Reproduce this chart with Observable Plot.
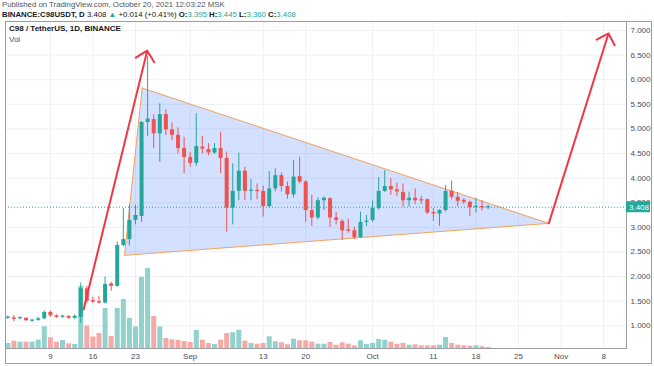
<!DOCTYPE html>
<html><head><meta charset="utf-8">
<script src="https://cdn.jsdelivr.net/npm/d3@7"></script>
<script src="https://cdn.jsdelivr.net/npm/@observablehq/plot@0.6"></script>
<style>
body{margin:0;background:#fff;}
#wrap{position:relative;width:654px;height:366px;overflow:hidden;font-family:"Liberation Sans",Arial,sans-serif;}
.hdr{position:absolute;left:2px;font-size:7.8px;line-height:10px;white-space:nowrap;color:#50535e;}
#h1{top:0px;}
#h2{top:10px;color:#131722;}
#h2 b{font-weight:bold;}
#h2 .g{color:#26a69a;}
#frame{position:absolute;left:5px;top:21px;width:647px;height:343px;border:1px solid #9a9da5;box-sizing:border-box;}
#plot{position:absolute;left:0;top:20px;}
#t1{position:absolute;left:9px;top:24px;font-size:8px;font-weight:bold;color:#131722;white-space:nowrap;}
#t2{position:absolute;left:9px;top:35px;font-size:8px;color:#50535e;}
</style></head>
<body>
<div id="wrap">
  <div id="frame"></div>
  <div class="hdr" id="h1">Published on TradingView.com, October 20, 2021 12:03:22 MSK</div>
  <div class="hdr" id="h2"><b>BINANCE:C98USDT, D</b> 3.408 <span class="g">▲</span> +0.014 (+0.41%) <b>O:</b><span class="g">3.395</span> <b>H:</b><span class="g">3.445</span> <b>L:</b><span class="g">3.360</span> <b>C:</b><span class="g">3.408</span></div>
  <div id="plot"></div>
  <div id="t1">C98 / TetherUS, 1D, BINANCE</div>
  <div id="t2">Vol</div>
</div>
<script>
// Daily candles, 2021-08-02 .. 2021-10-20
const dates = d3.utcDay.range(new Date("2021-08-02T00:00Z"), new Date("2021-10-21T00:00Z"));
const open  = [1.15,1.16,1.14,1.15,1.09,1.11,1.14,1.27,1.20,1.17, 1.19,1.15,1.17,1.75,1.51,1.49,1.46,1.85,1.80,2.63,
               2.75,3.14,3.22,5.13,5.19,4.90,5.29,4.98,4.87,4.60, 4.42,4.30,4.63,4.58,4.51,4.60,4.40,3.39,3.73,4.14,
               3.73,3.75,3.73,3.42,3.78,4.05,3.83,3.66,4.03,3.92, 3.34,3.19,3.54,3.58,3.19,3.12,2.95,2.93,2.79,3.10,
               3.14,3.38,3.73,3.83,3.76,3.71,3.54,3.59,3.56,3.56, 3.30,3.27,3.34,3.73,3.61,3.55,3.51,3.40,3.42,3.395];
const high  = [1.20,1.21,1.18,1.16,1.13,1.17,1.30,1.30,1.22,1.21, 1.20,1.22,1.87,1.80,1.58,1.60,1.99,1.88,2.70,3.38,
               3.45,3.45,5.15,6.47,5.29,5.51,5.39,5.12,5.02,4.83, 4.52,5.31,4.85,4.70,4.70,4.93,4.53,4.29,4.51,4.22,
               3.97,3.88,3.84,4.13,4.19,4.10,3.92,4.36,4.42,3.95, 3.65,3.60,3.62,3.60,3.30,3.15,3.16,3.00,3.31,3.24,
               3.54,4.01,4.15,3.99,3.90,3.88,3.71,3.78,3.63,3.58, 3.38,3.36,3.85,3.94,3.71,3.58,3.53,3.59,3.54,3.445];
const low   = [1.13,1.08,1.12,1.09,1.07,1.09,1.12,1.17,1.15,1.15, 1.13,1.13,1.05,1.45,1.45,1.44,1.44,1.70,1.78,2.60,
               2.62,3.05,3.10,4.85,4.60,4.32,4.87,4.76,4.49,4.09, 4.22,4.24,4.49,4.45,4.48,4.09,2.90,3.05,3.54,3.54,
               3.54,3.56,3.21,3.40,3.72,3.72,3.57,3.60,3.88,3.10, 3.02,3.15,3.34,3.00,3.05,2.73,2.88,2.75,2.78,3.02,
               3.10,3.35,3.71,3.65,3.62,3.41,3.41,3.46,3.46,3.26, 3.12,3.02,3.31,3.56,3.42,3.46,3.22,3.29,3.33,3.360];
const close = [1.16,1.13,1.16,1.10,1.11,1.14,1.27,1.20,1.17,1.19, 1.15,1.19,1.75,1.50,1.48,1.46,1.84,1.80,2.63,2.75,
               3.14,3.24,5.13,5.20,4.90,5.29,4.98,4.87,4.60,4.42, 4.30,4.64,4.59,4.51,4.60,4.40,3.39,3.73,4.14,3.73,
               3.75,3.73,3.42,3.78,4.05,3.83,3.66,4.02,3.92,3.34, 3.19,3.54,3.59,3.19,3.14,2.93,2.92,2.79,3.10,3.12,
               3.38,3.73,3.83,3.76,3.72,3.54,3.59,3.54,3.54,3.29, 3.27,3.34,3.73,3.61,3.53,3.51,3.40,3.42,3.40,3.408];
// volume (millions, estimated)
const volume = [5,7.3,6.3,6.3,6.3,8.3,21.7,10.7,6.3,8, 4.7,4,62,22.5,11.5,15,40,12,40,49,
                30,21.5,71,80,32,21.5,10,8.7,8.2,7, 6,18,8.3,5,4,8.3,15,15.7,18.3,7.3,
                5,4.3,5,11.7,6.7,5.7,3.7,9.3,7.7,7.7, 6.3,4.3,4.3,6,3.3,5.7,4.3,2.7,7.7,4,
                5,9,8.3,6.3,4.3,5,3.3,3.7,2.7,2.7, 2.7,3.3,11,5,3.3,2.7,2.3,2.7,1.7,1];

const xTickDates = ["2021-08-09","2021-08-16","2021-08-23","2021-09-01","2021-09-13","2021-09-20",
                    "2021-10-01","2021-10-11","2021-10-18","2021-10-25","2021-11-01","2021-11-08"].map(s => new Date(s + "T00:00Z"));
const priceTicks = [1,1.5,2,2.5,3,3.5,4,4.5,5,5.5,6,6.5,7];

// drawings (date/price anchors)
const triangleDates  = ["2021-08-24T02:24Z","2021-08-21T04:34Z","2021-10-29T23:31Z","2021-08-24T02:24Z"];
const trianglePrices = [5.83, 2.43, 3.08, 5.83];
const arrowStartDates  = ["2021-08-14T11:17Z","2021-10-29T23:31Z"];
const arrowStartPrices = [1.33, 3.08];
const arrowEndDates    = ["2021-08-24T22:19Z","2021-11-08T19:12Z"];
const arrowEndPrices   = [6.59, 6.94];

const lastClose = close[close.length - 1];
const xDomain = [new Date("2021-08-01T14:56Z"), new Date("2021-11-11T18:14Z")];
const yLo = 0.5366, yHi = 7.183;
const volMax = d3.max(volume);
const volToPrice = v => yLo + v / volMax * 0.245 * (yHi - yLo);

const UP = "#26a69a", DOWN = "#ef5350";
const candles = dates.map((d, i) => ({date: d, o: open[i], h: high[i], l: low[i], c: close[i], v: volume[i], up: close[i] >= open[i]}));
const tri = triangleDates.map((d, i) => ({date: new Date(d), price: trianglePrices[i]}));
const arrows = arrowStartDates.map((d, i) => ({x1: new Date(d), y1: arrowStartPrices[i], x2: new Date(arrowEndDates[i]), y2: arrowEndPrices[i]}));

const monthFmt = d3.utcFormat("%b");
const xFmt = d => d.getUTCDate() === 1 ? monthFmt(d) : String(d.getUTCDate());

function lastPriceLabel(index, scales, values, dimensions) {
  const y = scales.y(lastClose);
  const x0 = dimensions.width - dimensions.marginRight;
  const g = d3.create("svg:g");
  g.append("rect").attr("x", x0).attr("y", y - 5.5).attr("width", 24).attr("height", 11).attr("fill", UP);
  g.append("text").attr("x", x0 + 3).attr("y", y).attr("dy", "0.35em").attr("fill", "#fff")
    .attr("text-anchor", "start").attr("font-size", 8).text(d3.format(".3f")(lastClose));
  return g.node();
}

const chart = Plot.plot({
  width: 654, height: 346,
  marginLeft: 5, marginRight: 28, marginTop: 1, marginBottom: 18,
  style: {fontFamily: "'Liberation Sans', Arial, sans-serif", fontSize: "8px", color: "#4a4d57", background: "transparent", overflow: "visible"},
  x: {type: "utc", domain: xDomain, ticks: xTickDates, tickFormat: xFmt, tickSize: 0, tickPadding: 5, label: null},
  y: {domain: [yLo, yHi], axis: "right", ticks: priceTicks, tickFormat: d3.format(".3f"), tickSize: 0, tickPadding: 4, label: null},
  marks: [
    Plot.ruleX(xTickDates, {stroke: "#eef0f5"}),
    Plot.ruleY(priceTicks, {stroke: "#eef0f5"}),
    Plot.ruleX(candles, {x: "date", y1: yLo, y2: d => volToPrice(d.v), stroke: d => d.up ? "#92d2cc" : "#f7a9a7", strokeWidth: 5}),
    Plot.line(tri, {x: "date", y: "price", fill: "rgba(41,98,255,0.2)", stroke: "#f0a25e", strokeWidth: 1}),
    Plot.ruleY([lastClose], {stroke: UP, strokeDasharray: "1,2", strokeWidth: 1}),
    Plot.ruleX(candles, {x: "date", y1: "l", y2: "h", stroke: d => d.up ? UP : DOWN, strokeWidth: 1}),
    Plot.ruleX(candles, {x: "date", y1: "o", y2: d => Math.abs(d.c - d.o) < 0.025 ? d.o + (d.up ? 0.025 : -0.025) : d.c, stroke: d => d.up ? UP : DOWN, strokeWidth: 4}),
    Plot.arrow(arrows, {x1: "x1", y1: "y1", x2: "x2", y2: "y2", stroke: "#f23645", strokeWidth: 2, headAngle: 90, headLength: 10}),
    Plot.frame({stroke: "#9a9da5"}),
    lastPriceLabel
  ]
});
document.getElementById("plot").appendChild(chart);
</script>
</body></html>
